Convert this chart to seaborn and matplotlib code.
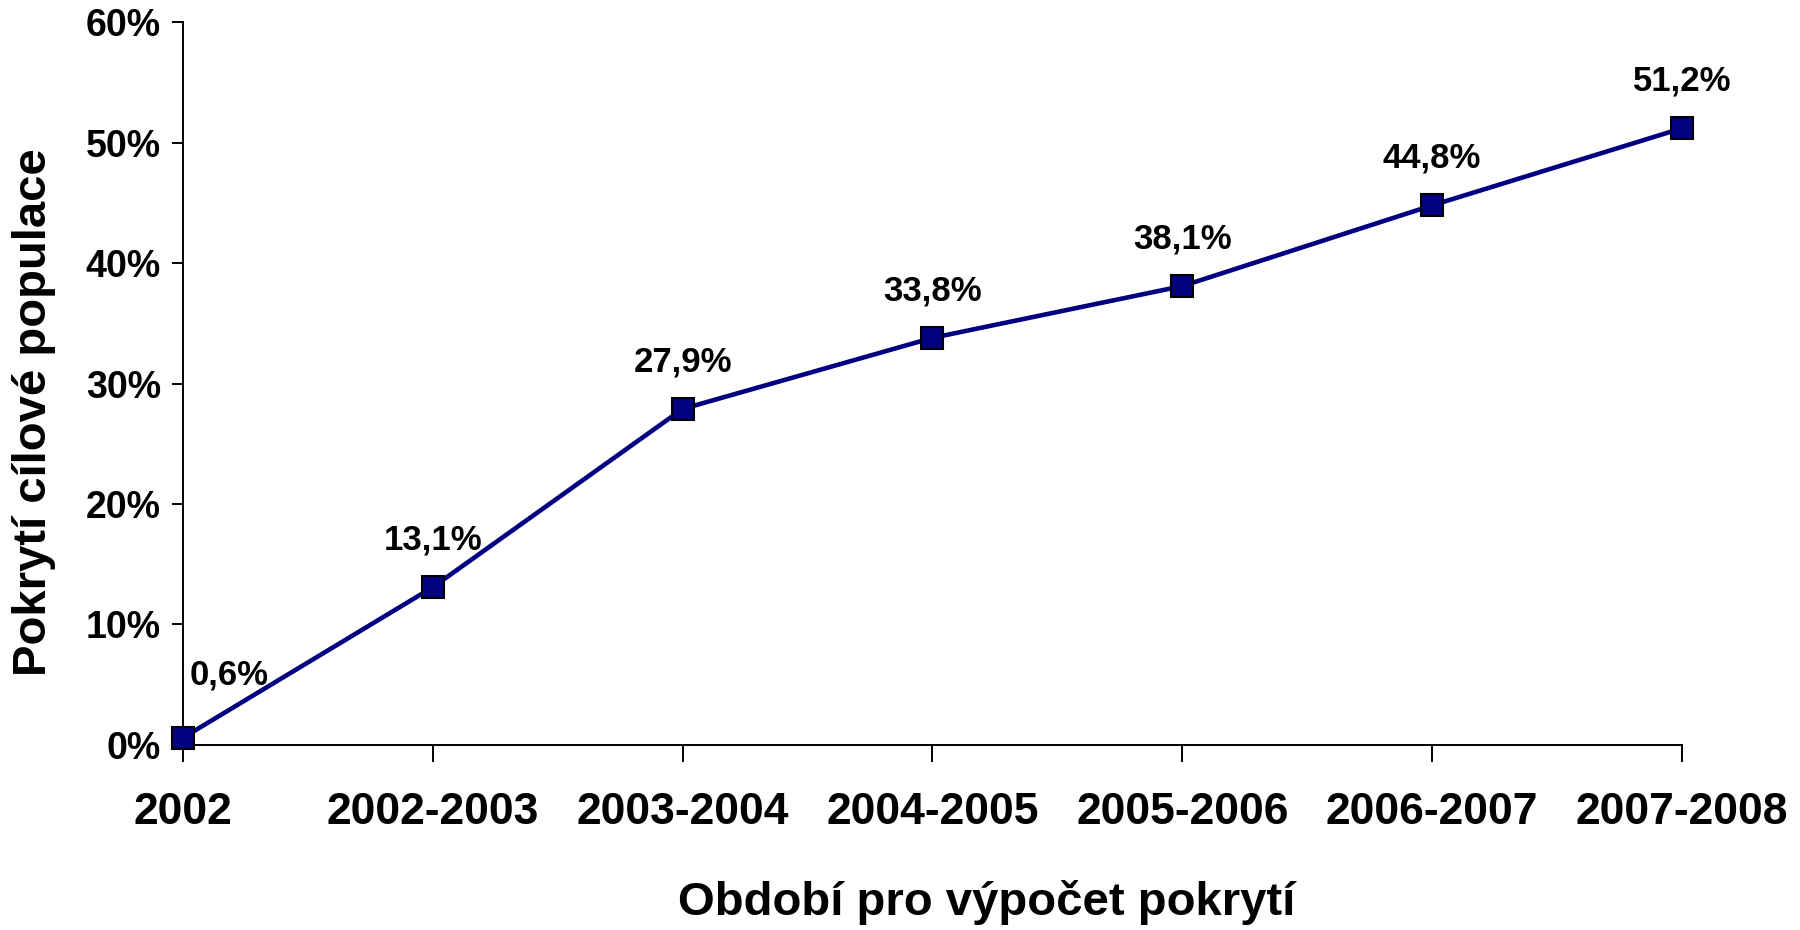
import numpy as np
import pandas as pd
import matplotlib.pyplot as plt
import seaborn as sns
from matplotlib.ticker import FuncFormatter

periods = ["2002", "2002-2003", "2003-2004", "2004-2005", "2005-2006", "2006-2007", "2007-2008"]
coverage = [0.6, 13.1, 27.9, 33.8, 38.1, 44.8, 51.2]
labels = ["0,6%", "13,1%", "27,9%", "33,8%", "38,1%", "44,8%", "51,2%"]

df = pd.DataFrame({"x": np.arange(len(periods)), "y": coverage})

sns.set_style("white")
plt.rcParams["font.family"] = ["Liberation Sans", "DejaVu Sans"]
plt.rcParams["text.color"] = "black"
plt.rcParams["axes.labelcolor"] = "black"
plt.rcParams["xtick.color"] = "black"
plt.rcParams["ytick.color"] = "black"

fig = plt.figure(figsize=(18, 9.3), dpi=100)
ax = fig.add_axes([0.1017, 0.199, 0.8327, 0.777])

sns.lineplot(data=df, x="x", y="y", ax=ax, color="#000080", linewidth=3.3,
             marker="s", markersize=15.5, markerfacecolor="#000080",
             markeredgecolor="black", markeredgewidth=1.5, clip_on=False, zorder=5)

# data labels; the first one sits to the upper right of its point
for i, (v, t) in enumerate(zip(coverage, labels)):
    off = (33, 45) if i == 0 else (0, 34)
    ax.annotate(t, (i, v), xytext=off, textcoords="offset points",
                ha="center", va="center", fontsize=25, fontweight="bold", color="black")

ax.set_xlim(0, 6)
ax.set_ylim(0, 60)
ax.set_yticks(range(0, 61, 10))
ax.yaxis.set_major_formatter(FuncFormatter(lambda v, p: f"{v:.0f}%"))
ax.set_xticks(df["x"])
ax.set_xticklabels(periods, fontsize=32, fontweight="bold")
for lab in ax.get_yticklabels():
    lab.set_fontsize(27)
    lab.set_fontweight("bold")

ax.tick_params(axis="x", direction="out", length=12, width=1.4, pad=22, bottom=True)
ax.tick_params(axis="y", direction="out", length=8, width=1.4, pad=8, left=True)
sns.despine(ax=ax)
for s in ["left", "bottom"]:
    ax.spines[s].set_linewidth(1.4)
    ax.spines[s].set_color("black")

ax.set_xlabel("Období pro výpočet pokrytí", fontsize=34, fontweight="bold", va="center")
ax.set_ylabel("Pokrytí cílové populace", fontsize=34, fontweight="bold", va="center")
ax.xaxis.set_label_coords(0.536, -0.2185)
ax.yaxis.set_label_coords(-0.0994, 0.46)

fig.savefig("out.png", dpi=100, facecolor="white")
